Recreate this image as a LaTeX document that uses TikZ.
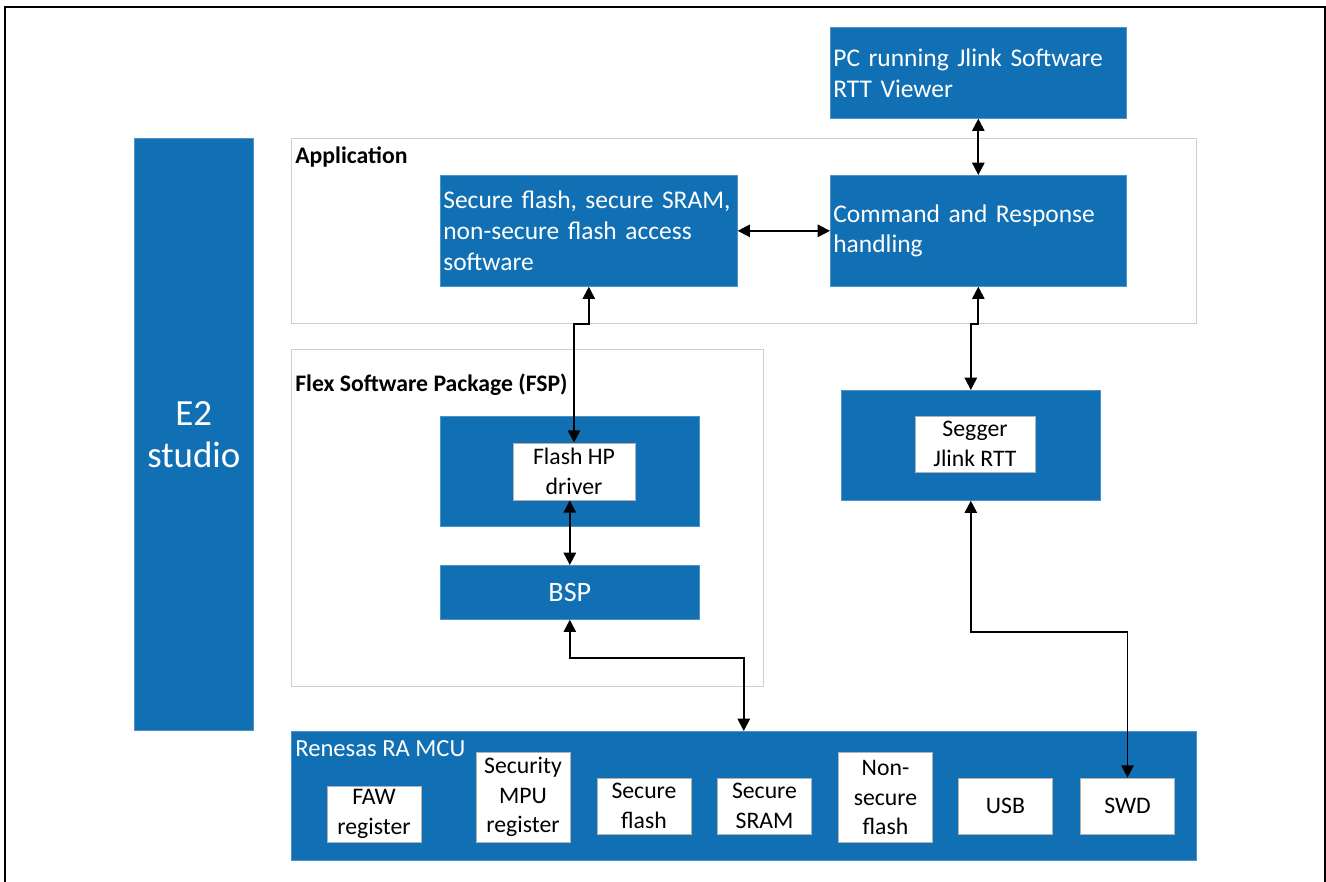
\documentclass[tikz,border=0pt]{standalone}
\usepackage{fontspec}
\setmainfont{Carlito}
\usetikzlibrary{arrows.meta,positioning}
\definecolor{rablue}{RGB}{16,112,179}
\definecolor{layergrey}{RGB}{204,208,212}

\begin{document}
\begin{tikzpicture}[
        x=0.02cm, y=-0.02cm,
        bluebox/.style={draw=rablue!75!white, fill=rablue, text=white, anchor=north west,
            font=\fontsize{14.5}{17.6}\selectfont, inner sep=0pt},
        textbox/.style={bluebox, align=left, inner xsep=0.06cm},
        whitebox/.style={draw=gray!60, fill=white, align=center, inner sep=0pt,
            minimum width=1.88cm, font=\fontsize{13.5}{16.8}\selectfont},
        layer/.style={draw=layergrey, line width=0.8pt, anchor=north west, inner sep=0pt},
        heading/.style={anchor=north west, inner sep=0pt, font=\bfseries\fontsize{13.5}{16}\selectfont},
        link/.style={{Triangle[length=7pt,width=7pt]}-{Triangle[length=7pt,width=7pt]}, line width=1.1pt},
    ]
    \useasboundingbox (0,0) rectangle (1326,882);
    \draw[line width=1.3pt] (5,882) -- (5,7) -- (1325,7) -- (1325,882);

    % layers
    \node[layer, minimum width=18.1cm, minimum height=3.7cm] (app) at (291,138) {};
    \node[heading] (applabel) at (295,146) {Application};
    \node[layer, minimum width=9.44cm, minimum height=6.74cm] (fsp) at (291,349) {};
    \node[heading] (fsplabel) at (295,374) {Flex Software Package (FSP)};

    \node[bluebox, minimum width=2.38cm, minimum height=11.84cm, align=center,
        font=\fontsize{21}{24}\selectfont] (e2) at (134,138) {E2\\studio};

    % application blocks
    \node[textbox, text width=5.8cm, minimum height=1.82cm] (pc) at (830,27)
        {PC running Jlink Software\\RTT Viewer};
    \node[textbox, text width=5.8cm, minimum height=2.22cm] (cmd) at (830,175)
        {Command and Response\\handling};
    \node[textbox, text width=5.82cm, minimum height=2.22cm] (sec) at (440,175)
        {Secure flash, secure SRAM,\\non-secure flash access\\software};

    % FSP blocks
    \node[bluebox, minimum width=5.18cm, minimum height=2.2cm] (flashhp) at (440,416) {};
    \node[whitebox, minimum width=2.44cm, minimum height=1.14cm] (flashdrv) at (574,471.5)
        {Flash HP\\driver};
    \node[bluebox, minimum width=5.18cm, minimum height=1.08cm,
        font=\fontsize{16}{18}\selectfont] (bsp) at (440,565) {BSP};

    \node[bluebox, minimum width=5.18cm, minimum height=2.2cm] (segger) at (841,390) {};
    \node[whitebox, minimum width=2.4cm, minimum height=1.12cm] (rtt) at (975,444)
        {Segger\\Jlink RTT};

    % MCU
    \node[bluebox, minimum width=18.1cm, minimum height=2.58cm] (mcu) at (291,731) {};
    \node[anchor=north west, inner sep=0pt, text=white, font=\fontsize{14}{16}\selectfont]
        (mculabel) at (295,740) {Renesas RA MCU};
    \node[whitebox, minimum height=1.12cm] (faw) at (374,814) {FAW\\register};
    \node[whitebox, minimum height=1.8cm] (mpu) at (523,797) {Security\\MPU\\register};
    \node[whitebox, minimum height=1.12cm] (sflash) at (644,806) {Secure\\flash};
    \node[whitebox, minimum height=1.12cm] (ssram) at (764.5,806) {Secure\\SRAM};
    \node[whitebox, minimum height=1.8cm] (nsflash) at (885.5,797.5) {Non-\\secure\\flash};
    \node[whitebox, minimum height=1.12cm] (usb) at (1005.5,806) {USB};
    \node[whitebox, minimum height=1.12cm] (swd) at (1127.5,806) {SWD};

    % connectors
    \draw[link] (pc) -- (cmd);
    \draw[link] (sec) -- (cmd);
    \draw[link] (sec.south) -- (sec.south |- app.south) -| (flashdrv.north);
    \draw[link] (cmd.south) -- (cmd.south |- app.south) -| (segger.north);
    \draw[link] (bsp.north |- flashdrv.south) -- (bsp.north);
    \draw[link] (bsp.south) -- ++(0,38) -| (mcu.north);
    \draw[link] (segger.south) -- ++(0,131) -| (swd.north);
\end{tikzpicture}
\end{document}
